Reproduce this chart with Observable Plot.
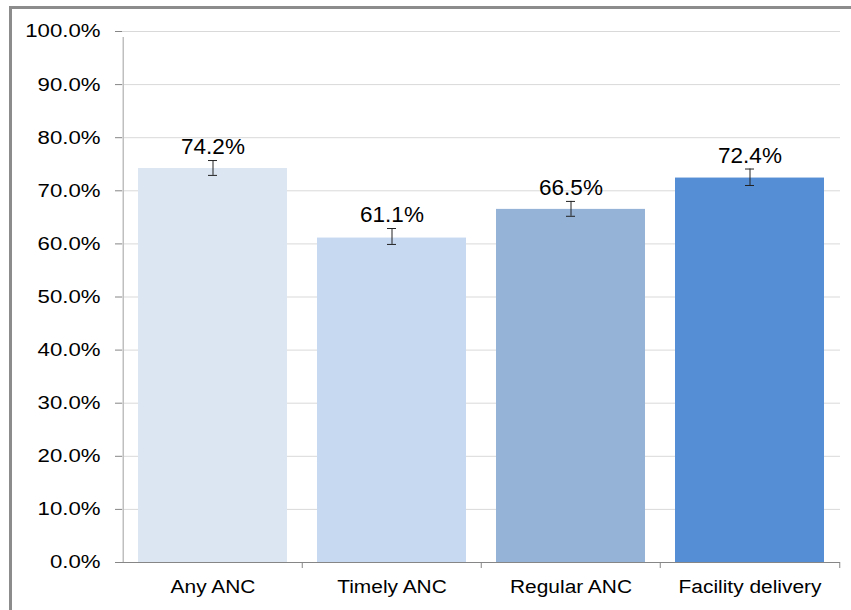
<!DOCTYPE html>
<html>
<head>
<meta charset="utf-8">
<script src="https://cdn.jsdelivr.net/npm/d3@7"></script>
<script src="https://cdn.jsdelivr.net/npm/@observablehq/plot@0.6"></script>
<style>
  html, body { margin: 0; padding: 0; background: #fff; }
  #wrap { position: relative; width: 851px; height: 610px; overflow: hidden; }
  #frame { position: absolute; left: 9px; top: 6px; width: 860px; height: 620px;
           border-top: 3px solid #8c8c8c; border-left: 3px solid #8c8c8c; box-sizing: border-box; }
  #chart { position: absolute; left: 0; top: 0; }
</style>
</head>
<body>
<div id="wrap"><div id="frame"></div><div id="chart"></div></div>
<script>
const categories = ["Any ANC", "Timely ANC", "Regular ANC", "Facility delivery"];
const values = [74.2, 61.1, 66.5, 72.4];
const lower = [72.9, 59.9, 65.2, 71.0];
const upper = [75.7, 62.9, 68.0, 74.1];
const colors = ["#DCE6F2", "#C6D9F1", "#95B3D7", "#558ED5"];
const yTicks = [0, 10, 20, 30, 40, 50, 60, 70, 80, 90, 100];

const data = categories.map((c, i) => ({cat: c, value: values[i], lo: lower[i], hi: upper[i], color: colors[i]}));

const W = 851, H = 610, mL = 122, mR = 11, mT = 31, mB = 48;
const step = (W - mL - mR) / 4;
const half = step / 2;

const plot = Plot.plot({
  width: W,
  height: H,
  marginLeft: mL,
  marginRight: mR,
  marginTop: mT,
  marginBottom: mB,
  style: {fontFamily: "'Liberation Sans', Arial, sans-serif", background: "transparent"},
  x: {domain: categories, paddingInner: 1/6, paddingOuter: 1/12, label: null},
  y: {domain: [0, 100], label: null},
  marks: [
    Plot.ruleY(yTicks.filter(d => d > 0), {stroke: "#D9D9D9", strokeWidth: 1}),
    Plot.barY(data, {x: "cat", y: "value", fill: "color"}),
    Plot.ruleY([0], {stroke: "#868686", strokeWidth: 1}),
    // y axis line (left band boundary)
    Plot.ruleX([categories[0]], {x: d => d, y1: 0, y2: 100, dx: -half, insetBottom: -6, stroke: "#BFBFBF", strokeWidth: 1.5}),
    // x tick marks at band boundaries
    Plot.ruleX(categories.slice(1), {x: d => d, y1: 0, y2: 0, dx: -half, insetBottom: -6, stroke: "#868686"}),
    Plot.ruleX([categories[categories.length - 1]], {x: d => d, y1: 0, y2: 0, dx: half, insetBottom: -6, stroke: "#868686"}),
    Plot.axisY({ticks: yTicks, tickFormat: d => d.toFixed(1) + "%", tickSize: 7, tickPadding: 15, fontSize: 18.5, stroke: "#868686", color: "#000"}),
    Plot.axisX({tickSize: 0, tickPadding: 17, fontSize: 19, color: "#000"}),
    // error bars
    Plot.ruleX(data, {x: "cat", y1: "lo", y2: "hi", stroke: "#222", strokeWidth: 1}),
    Plot.tickY(data, {x: "cat", y: "lo", stroke: "#222", insetLeft: 70, insetRight: 70}),
    Plot.tickY(data, {x: "cat", y: "hi", stroke: "#222", insetLeft: 70, insetRight: 70}),
    Plot.text(data, {x: "cat", y: "hi", text: d => d.value.toFixed(1) + "%", lineAnchor: "bottom", dy: -6.5, fontSize: 22.5, fill: "#000"})
  ]
});

document.getElementById("chart").appendChild(plot);

function stretch(selector, k) {
  plot.querySelectorAll(selector).forEach(t => {
    const x = parseFloat(t.getAttribute("x") || "0");
    const tr = t.getAttribute("transform") || "";
    t.setAttribute("transform", `${tr} translate(${x},0) scale(${k},1) translate(${-x},0)`);
  });
}
stretch('g[aria-label="y-axis tick label"] text', 1.2);
stretch('g[aria-label="x-axis tick label"] text', 1.1);
</script>
</body>
</html>
